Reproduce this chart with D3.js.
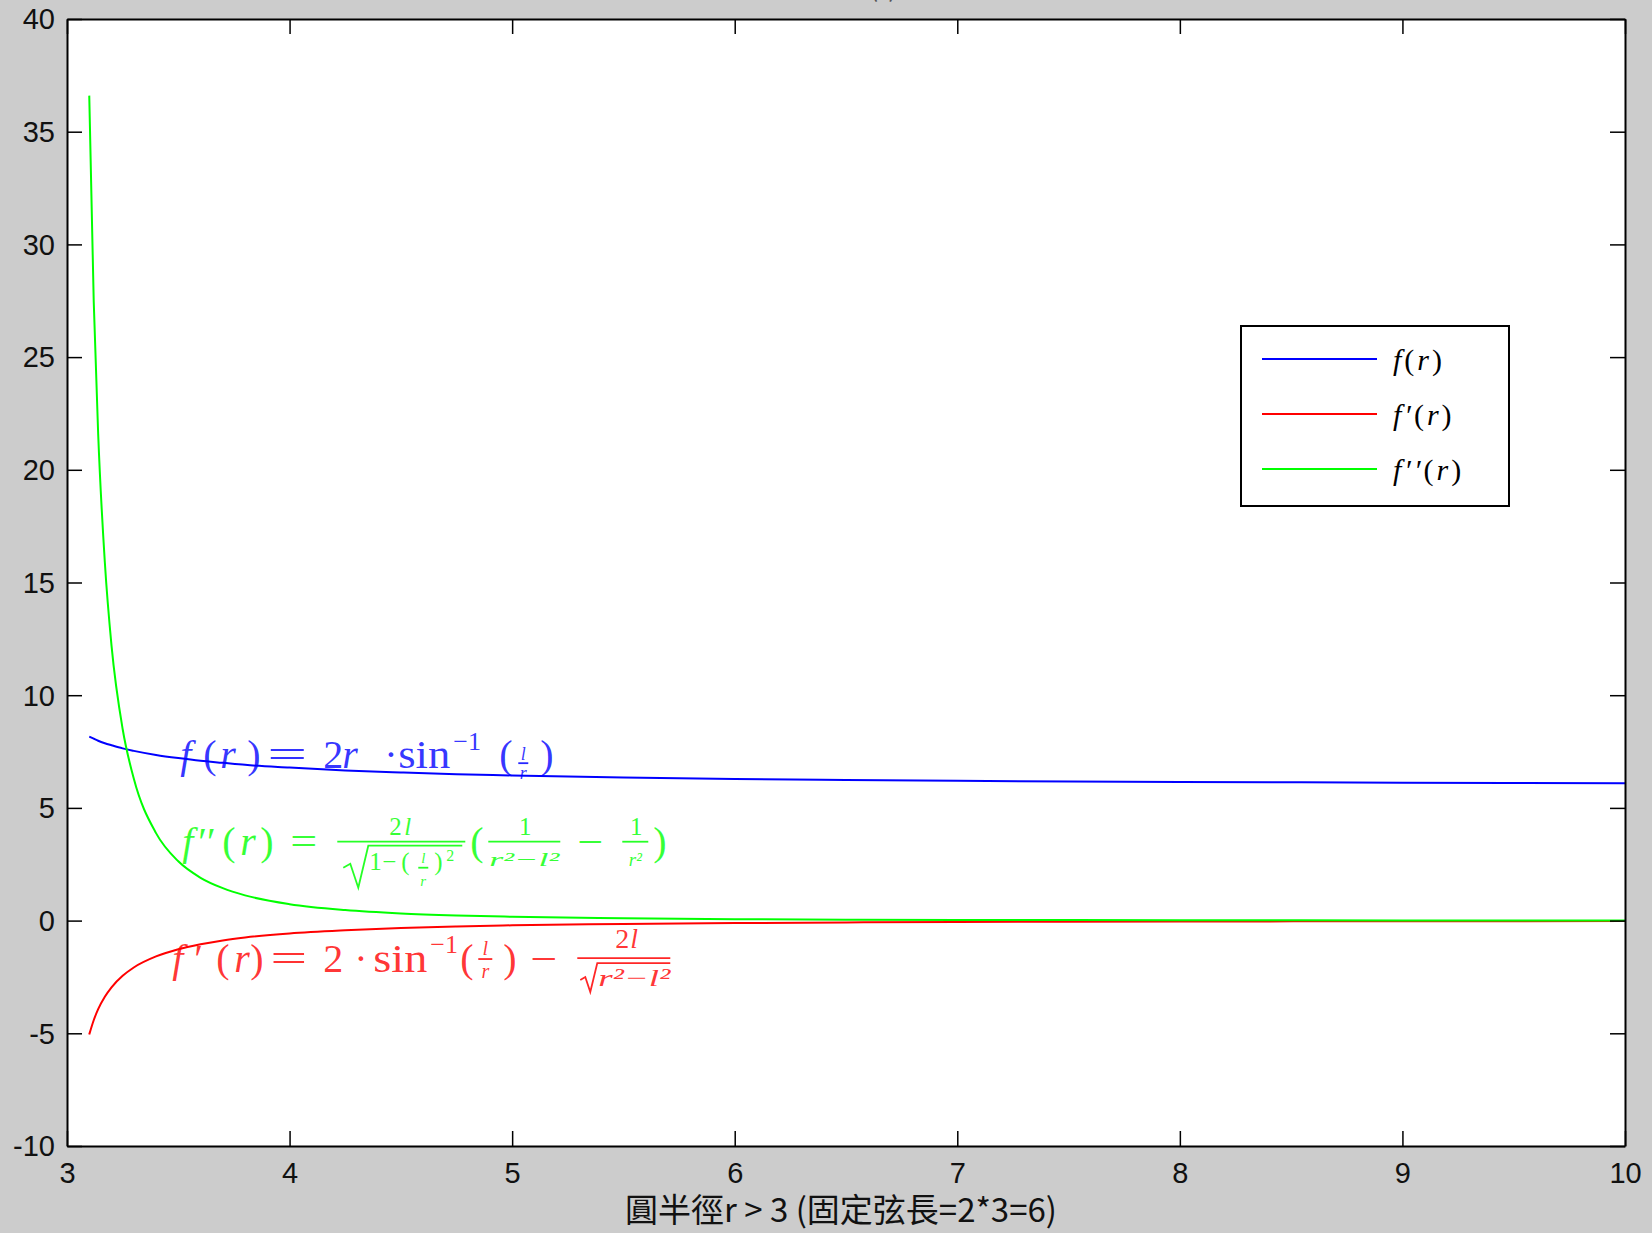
<!DOCTYPE html>
<html>
<head>
<meta charset="utf-8">
<script src="https://cdn.jsdelivr.net/npm/d3@7"></script>
<style>
  body { margin: 0; background: #cccccc; }
  svg { display: block; }
</style>
</head>
<body>
<svg width="1652" height="1233"></svg>
<script>
// values (radius r, f, f', f'')
var rVals  = [3.1, 3.12, 3.14, 3.17, 3.2, 3.25, 3.3, 3.4, 3.5, 3.6, 3.7, 3.8, 4.0, 4.25, 4.5, 4.75, 5, 5.5, 6, 6.5, 7, 8, 9, 10];
var fVals  = [8.16, 8.07, 7.98, 7.87, 7.78, 7.64, 7.53, 7.35, 7.21, 7.09, 7.00, 6.91, 6.79, 6.66, 6.57, 6.49, 6.44, 6.35, 6.28, 6.24, 6.20, 6.15, 6.12, 6.09];
var f1Vals = [-5.05, -4.42, -3.93, -3.38, -2.96, -2.45, -2.08, -1.59, -1.27, -1.05, -0.88, -0.75, -0.57, -0.43, -0.33, -0.26, -0.21, -0.15, -0.11, -0.08, -0.06, -0.04, -0.03, -0.02];
var f2Vals = [36.6, 27.5, 21.6, 15.9, 12.2, 8.5, 6.3, 3.88, 2.63, 1.90, 1.44, 1.12, 0.73, 0.47, 0.32, 0.23, 0.17, 0.10, 0.06, 0.04, 0.03, 0.02, 0.01, 0.01];

var xTicks = [3, 4, 5, 6, 7, 8, 9, 10];
var yTicks = [-10, -5, 0, 5, 10, 15, 20, 25, 30, 35, 40];
var seriesNames = ["f", "f′", "f′′"];
var seriesColors = ["#0000ff", "#ff0000", "#00ff00"];
var xLabel = "圓半徑r > 3 (固定弦長=2*3=6)";
var titleText = "弦長固定時弧長 f(r) 及其導數";

var svg = d3.select("svg");

var x = d3.scaleLinear().domain([3, 10]).range([67, 1625]);
var y = d3.scaleLinear().domain([-10, 40]).range([1146, 19]);

// title (cut off at the top edge in the original, only a sliver shows)
svg.append("text")
  .attr("x", 840).attr("y", -3)
  .attr("text-anchor", "middle")
  .style("font", "26px 'Noto Sans CJK TC'")
  .attr("fill", "#555")
  .text(titleText);

// plot background
svg.append("rect")
  .attr("x", 67).attr("y", 19)
  .attr("width", 1625 - 67).attr("height", 1146 - 19)
  .attr("fill", "#fff");

svg.append("clipPath").attr("id", "clip")
  .append("rect").attr("x", 67).attr("y", 19).attr("width", 1558).attr("height", 1127);

// lines
var series = [fVals, f1Vals, f2Vals];
var line = d3.line()
  .x(function(d) { return x(d[0]); })
  .y(function(d) { return y(d[1]); })
  .curve(d3.curveMonotoneX);

var lineG = svg.append("g").attr("clip-path", "url(#clip)");
series.forEach(function(vals, i) {
  lineG.append("path")
    .datum(rVals.map(function(r, j) { return [r, vals[j]]; }))
    .attr("d", line)
    .attr("fill", "none")
    .attr("stroke", seriesColors[i])
    .attr("stroke-width", 2);
});

// axes (MATLAB box with inward ticks)
var tickFont = "29px 'Liberation Sans', Arial, sans-serif";
var plain = function(d) { return String(d); };

var xAxis = svg.append("g").attr("transform", "translate(0,1146)")
  .call(d3.axisBottom(x).tickValues(xTicks).tickSize(-15).tickSizeOuter(0).tickPadding(16).tickFormat(plain));
var yAxis = svg.append("g").attr("transform", "translate(67,0)")
  .call(d3.axisLeft(y).tickValues(yTicks).tickSize(-15).tickSizeOuter(0).tickPadding(12).tickFormat(plain));
var xTop = svg.append("g").attr("transform", "translate(0,19)")
  .call(d3.axisTop(x).tickValues(xTicks).tickSize(-15).tickSizeOuter(0).tickFormat(""));
var yRight = svg.append("g").attr("transform", "translate(1625,0)")
  .call(d3.axisRight(y).tickValues(yTicks).tickSize(-15).tickSizeOuter(0).tickFormat(""));

[xAxis, yAxis, xTop, yRight].forEach(function(a) {
  a.select(".domain").attr("stroke", "#000").attr("stroke-width", 2);
  a.selectAll(".tick line").attr("stroke", "#000").attr("stroke-width", 1.5);
  a.selectAll(".tick text").style("font", tickFont).attr("fill", "#111");
});
xAxis.selectAll(".tick text").attr("dy", "0.72em");
yAxis.selectAll(".tick text").attr("dy", "0.34em");

// x label
svg.append("text")
  .attr("x", 841).attr("y", 1222)
  .attr("text-anchor", "middle")
  .style("font", "33px 'Noto Sans CJK TC', sans-serif")
  .attr("fill", "#111")
  .text(xLabel);

// legend
var leg = svg.append("g");
leg.append("rect")
  .attr("x", 1241).attr("y", 326).attr("width", 268).attr("height", 180)
  .attr("fill", "#fff").attr("stroke", "#000").attr("stroke-width", 2);
seriesNames.forEach(function(name, i) {
  var ly = 359 + i * 55;
  leg.append("line")
    .attr("x1", 1262).attr("x2", 1377).attr("y1", ly).attr("y2", ly)
    .attr("stroke", seriesColors[i]).attr("stroke-width", 2);
  var t = leg.append("text")
    .attr("x", 1393).attr("y", ly + 11)
    .style("font", "30px 'Liberation Serif', serif")
    .style("letter-spacing", "3px")
    .attr("fill", "#000");
  t.append("tspan").style("font-style", "italic").text(name);
  t.append("tspan").text("(");
  t.append("tspan").style("font-style", "italic").text("r");
  t.append("tspan").text(")");
});

// formula annotations, placed at data anchors, pieces offset in px
// token: [text, dx, dy, size, italic, anchor, width]
function drawFormula(ax, ay, color, tokens, bars, roots) {
  var g = svg.append("g")
    .attr("transform", "translate(" + x(ax) + "," + y(ay) + ")")
    .attr("fill", color).attr("fill-opacity", 0.8);
  tokens.forEach(function(t) {
    var el = g.append("text")
      .attr("x", t[1]).attr("y", t[2])
      .style("font-family", "'Liberation Serif', serif")
      .style("font-size", t[3] + "px")
      .style("font-style", t[4] ? "italic" : "normal")
      .attr("text-anchor", t[5] || "start")
      .text(t[0]);
    if (t[6]) el.attr("textLength", t[6]).attr("lengthAdjust", "spacingAndGlyphs");
  });
  bars.forEach(function(b) {
    g.append("line").attr("x1", b[0]).attr("x2", b[1]).attr("y1", b[2]).attr("y2", b[2])
      .attr("stroke", color).attr("stroke-width", 1.8).attr("stroke-opacity", 0.85);
  });
  roots.forEach(function(p) {
    g.append("path").attr("d", d3.line()(p))
      .attr("fill", "none").attr("stroke", color).attr("stroke-width", 1.8).attr("stroke-opacity", 0.85);
  });
}

drawFormula(3.5, 7.25, "#0000ff", [
  ["f", 2, 11, 40, true],
  ["(", 25, 11, 40],
  ["r", 42, 11, 40, true],
  [")", 69, 11, 40],
  ["=", 89, 11, 40, false, "start", 40],
  ["2", 145, 11, 40],
  ["r", 164, 11, 40, true],
  ["·", 206, 11, 40],
  ["sin", 220, 11, 40, false, "start", 52],
  ["−1", 275, -7, 26],
  ["(", 321, 11, 40],
  ["l", 345, 3, 18, true, "middle"],
  ["r", 345, 22, 18, true, "middle"],
  [")", 362, 11, 40]
], [[340, 350, 6]], []);

drawFormula(3.5, 3.5, "#00ff00", [
  ["f", 4, 13, 40, true],
  ["′′", 20, 13, 40],
  ["(", 44, 13, 40],
  ["r", 62, 13, 40, true],
  [")", 82, 13, 40],
  ["=", 112, 13, 40, false, "start", 27],
  ["2", 211, -7, 25],
  ["l", 226, -7, 25, true],
  ["1", 191, 28, 25],
  ["−", 204, 28, 25],
  ["(", 223, 28, 25],
  ["l", 245, 21, 15, true, "middle"],
  ["r", 245, 44, 15, true, "middle"],
  [")", 256, 28, 25],
  ["2", 268, 19, 16],
  ["(", 292, 13, 40],
  ["1", 347, -7, 25, false, "middle"],
  ["r²−l²", 346, 24, 19, true, "middle", 70],
  ["−", 399, 13, 40, false, "start", 26],
  ["1", 458, -7, 25, false, "middle"],
  ["r²", 457, 24, 19, true, "middle"],
  [")", 475, 13, 40]
], [[159, 287, 0], [240, 250, 26], [310, 382, 0], [444, 470, 0]],
  [[[165, 26], [172, 22], [180, 46], [190, 4], [284, 4]]]);

drawFormula(3.5, -1.75, "#ff0000", [
  ["f", -6, 12, 40, true],
  ["′", 16, 12, 40],
  ["(", 38, 12, 40],
  ["r", 56, 12, 40, true],
  [")", 72, 12, 40],
  ["=", 92, 12, 40, false, "start", 37],
  ["2", 145, 12, 40],
  ["·", 176, 12, 40],
  ["sin", 195, 12, 40, false, "start", 54],
  ["−1", 252, -7, 26],
  ["(", 282, 12, 40],
  ["l", 307, -5, 20, true, "middle"],
  ["r", 307, 18, 20, true, "middle"],
  [")", 325, 12, 40],
  ["−", 352, 12, 40, false, "start", 27],
  ["2", 437, -12, 28],
  ["l", 452, -12, 28, true],
  ["r²−l²", 420, 26, 24, true, "start", 72]
], [[300, 314, -1], [399, 492, -2]],
  [[[402, 20], [407, 17], [412, 32], [419, 3], [492, 3]]]);
</script>
</body>
</html>
